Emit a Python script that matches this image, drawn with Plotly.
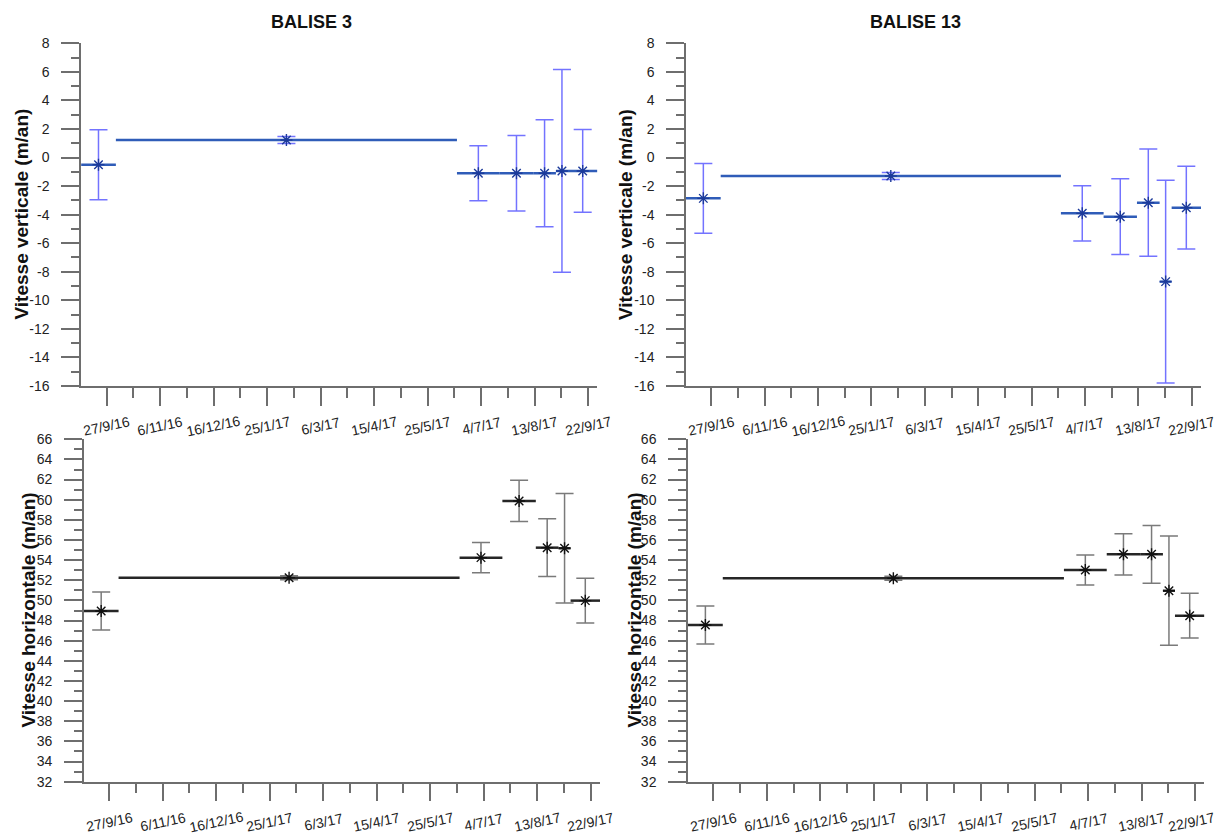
import plotly.graph_objects as go
import pandas as pd

# ---- data -------------------------------------------------------------
period_start = ["2016-09-08", "2016-10-04", "2017-06-16", "2017-07-18",
                "2017-08-12", "2017-08-29", "2017-09-07"]
period_end = ["2016-10-04", "2017-06-16", "2017-07-18", "2017-08-12",
              "2017-08-29", "2017-09-07", "2017-09-29"]

vert_b3 = [-0.50, 1.23, -1.10, -1.10, -1.10, -0.94, -0.94]
vert_b13 = [-2.86, -1.29, -3.91, -4.14, -3.16, -8.69, -3.51]
vert_err = [2.45, 0.25, 1.93, 2.65, 3.75, 7.10, 2.90]

horiz_b3 = [48.95, 52.26, 54.25, 59.88, 55.24, 55.18, 49.98]
horiz_b13 = [47.56, 52.20, 53.02, 54.58, 54.58, 50.97, 48.49]
horiz_err = [1.89, 0.20, 1.49, 2.05, 2.87, 5.43, 2.22]

x_tick_dates = ["2016-09-27", "2016-11-06", "2016-12-16", "2017-01-25", "2017-03-06",
                "2017-04-15", "2017-05-25", "2017-07-04", "2017-08-13", "2017-09-22"]
x_tick_text = ["27/9/16", "6/11/16", "16/12/16", "25/1/17", "6/3/17",
               "15/4/17", "25/5/17", "4/7/17", "13/8/17", "22/9/17"]
x_range = ["2016-09-08", "2017-09-29"]

v_tick_vals = [8, 6, 4, 2, 0, -2, -4, -6, -8, -10, -12, -14, -16]
v_tick_text = ["8", "6", "4", "2", "0", "-2", "-4", "-6", "-8", "-10", "-12", "-14", "-16"]
h_tick_vals = list(range(66, 31, -2))
h_tick_text = [str(v) for v in h_tick_vals]

titles = ["BALISE 3", "BALISE 13"]
ylabel_v = "Vitesse verticale (m/an)"
ylabel_h = "Vitesse horizontale (m/an)"

# ---- helpers ----------------------------------------------------------
W, H = 1217, 836
FONT = "Liberation Sans, Arial, sans-serif"
starts = pd.to_datetime(period_start)
ends = pd.to_datetime(period_end)
mids = starts + (ends - starts) / 2

seg_x = []
for s, e in zip(starts, ends):
    seg_x += [s, e, None]


def seg_y(vals):
    out = []
    for v in vals:
        out += [v, v, None]
    return out


fig = go.Figure()

panels = [
    (vert_b3, vert_err, "x", "y", "rgba(80,80,255,0.8)", "#2f5cb8", "#1c3a9a"),
    (vert_b13, vert_err, "x2", "y2", "rgba(80,80,255,0.8)", "#2f5cb8", "#1c3a9a"),
    (horiz_b3, horiz_err, "x3", "y3", "#7a7a7a", "#262626", "#111111"),
    (horiz_b13, horiz_err, "x4", "y4", "#7a7a7a", "#262626", "#111111"),
]

for vals, errs, xa, ya, ecol, lcol, mcol in panels:
    fig.add_trace(go.Scatter(
        x=mids, y=vals, mode="markers", xaxis=xa, yaxis=ya,
        marker=dict(size=2, color="rgba(0,0,0,0)"),
        error_y=dict(type="data", array=errs, symmetric=True, color=ecol,
                     thickness=1.5, width=9),
        showlegend=False, hoverinfo="skip"))
    fig.add_trace(go.Scatter(
        x=seg_x, y=seg_y(vals), mode="lines", xaxis=xa, yaxis=ya,
        line=dict(color=lcol, width=2.5), connectgaps=False,
        showlegend=False, hoverinfo="skip"))
    fig.add_trace(go.Scatter(
        x=mids, y=vals, mode="markers", xaxis=xa, yaxis=ya,
        marker=dict(symbol="asterisk-open", size=10, color=mcol,
                    line=dict(color=mcol, width=1.4)),
        showlegend=False))

AX = "#6e6e6e"


def xaxis(dom, anchor):
    return dict(domain=dom, anchor=anchor, type="date", range=x_range, automargin=False,
                tickmode="array", tickvals=x_tick_dates, ticktext=x_tick_text,
                showticklabels=False,
                ticks="outside", ticklen=18, tickwidth=1.5, tickcolor=AX,
                minor=dict(tickmode="linear", tick0="2016-09-27", dtick=20 * 86400000,
                           ticks="outside", ticklen=10, tickwidth=1.5, tickcolor=AX,
                           showgrid=False),
                showline=True, linecolor=AX, linewidth=1.5,
                showgrid=False, zeroline=False)


def yaxis(dom, anchor, rng, tv, tt):
    return dict(domain=dom, anchor=anchor, range=rng, automargin=False,
                tickmode="array", tickvals=tv, ticktext=tt,
                ticks="outside", ticklen=18, tickwidth=1.5, tickcolor=AX,
                minor=dict(tickmode="linear", tick0=0, dtick=1, ticks="outside",
                           ticklen=8, tickwidth=1.5, tickcolor=AX, showgrid=False),
                ticklabelstandoff=9,
                showline=True, linecolor=AX, linewidth=1.5,
                showgrid=False, zeroline=False,
                tickfont=dict(family=FONT, size=14, color="#222"))


def px(x):
    return x / W


def py(y):
    return 1 - y / H


TOP_AXIS_Y, BOT_AXIS_Y = 386, 781.7
top_dom = [py(TOP_AXIS_Y), py(43.3)]
bot_dom = [py(BOT_AXIS_Y), py(439.3)]

fig.update_layout(
    template="none",
    width=W, height=H, autosize=False,
    margin=dict(l=0, r=0, t=0, b=0, autoexpand=False),
    paper_bgcolor="white", plot_bgcolor="white",
    xaxis=xaxis([px(81.1), px(597.4)], "y"),
    yaxis=yaxis(top_dom, "x", [-16, 8], v_tick_vals, v_tick_text),
    xaxis2=xaxis([px(686), px(1201)], "y2"),
    yaxis2=yaxis(top_dom, "x2", [-16, 8], v_tick_vals, v_tick_text),
    xaxis3=xaxis([px(83.8), px(600)], "y3"),
    yaxis3=yaxis(bot_dom, "x3", [32, 66], h_tick_vals, h_tick_text),
    xaxis4=xaxis([px(688), px(1204.4)], "y4"),
    yaxis4=yaxis(bot_dom, "x4", [32, 66], h_tick_vals, h_tick_text),
)

ann = []
# slanted date labels, each centred under its tick
for xref, axis_y in [("x", TOP_AXIS_Y), ("x2", TOP_AXIS_Y),
                     ("x3", BOT_AXIS_Y), ("x4", BOT_AXIS_Y)]:
    for i, (d, lab) in enumerate(zip(x_tick_dates, x_tick_text)):
        # keep the very last label of the lower-right panel inside the page
        shift = -4 if (xref == "x4" and i == len(x_tick_dates) - 1) else 0
        ann.append(dict(text=lab, x=d, xref=xref, y=py(axis_y + 40), yref="paper",
                        xshift=shift,
                        showarrow=False, xanchor="center", yanchor="middle",
                        textangle=-12,
                        font=dict(family=FONT, size=14, color="#222")))
for t, xc in zip(titles, [311, 916]):
    ann.append(dict(text="<b>%s</b>" % t, x=px(xc), y=py(22), xref="paper", yref="paper",
                    showarrow=False, xanchor="center", yanchor="middle",
                    font=dict(family=FONT, size=18, color="#111")))
for lab, xc, yc in [(ylabel_v, 21, 214.5), (ylabel_v, 625.5, 214.5),
                    (ylabel_h, 28, 610.5), (ylabel_h, 634, 610.5)]:
    ann.append(dict(text="<b>%s</b>" % lab, x=px(xc), y=py(yc), xref="paper", yref="paper",
                    showarrow=False, xanchor="center", yanchor="middle", textangle=-90,
                    font=dict(family=FONT, size=19, color="#111")))
fig.update_layout(annotations=ann)

# remove the default 8px body margin so the figure fills the window exactly
fig.write_html("out.html",
               config={"displayModeBar": False},
               post_script="document.body.style.margin='0px';"
                           "document.body.style.overflow='hidden';")
